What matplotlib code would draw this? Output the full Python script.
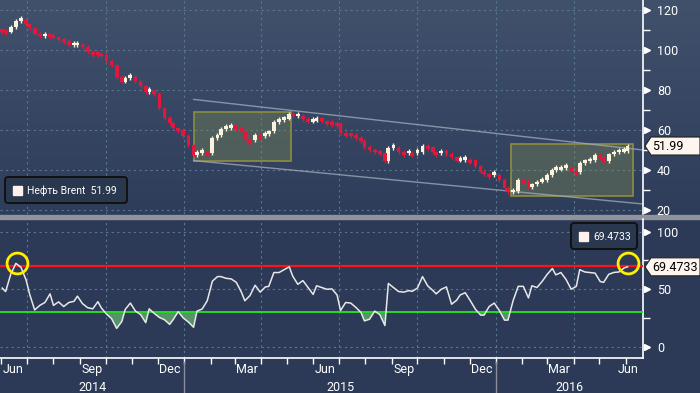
import numpy as np
import pandas as pd
import matplotlib
matplotlib.use("Agg")
import matplotlib.pyplot as plt
from matplotlib.patches import Rectangle, FancyBboxPatch, Polygon
from matplotlib.transforms import blended_transform_factory

plt.rcParams['font.family'] = ['Roboto', 'DejaVu Sans']

# --- data (one value every 4 business days) ---
start_date = "2014-06-02"
first_open = 110.3
brent_close = [
    109.8, 109.2, 111.5, 114.5, 114.8, 112.8, 110.8, 108.2, 106.8, 107.8,
    107.6, 106.3, 105.3, 104.4, 102.3, 102.3, 102.8, 101.7, 99.0, 98.8,
    98.2, 97.5, 94.7, 92.3, 86.5, 84.2, 86.0, 86.6, 84.3, 81.8,
    79.0, 79.5, 78.0, 70.8, 66.0, 63.5, 60.8, 60.0, 57.0, 52.3,
    47.6, 48.6, 48.9, 48.3, 56.0, 57.4, 60.5, 61.0, 61.9, 61.0,
    59.4, 55.0, 54.8, 57.5, 57.0, 57.8, 59.3, 64.0, 64.9, 65.7,
    68.2, 66.8, 66.9, 65.7, 64.2, 64.7, 65.8, 64.3, 63.9, 63.5,
    63.0, 58.6, 58.3, 57.4, 56.1, 54.5, 51.5, 50.2, 49.3, 48.3,
    44.6, 51.0, 51.0, 48.9, 48.3, 48.6, 48.5, 49.0, 52.0, 51.3,
    48.8, 48.3, 49.5, 48.1, 46.3, 44.7, 45.0, 45.1, 44.8, 41.8,
    39.2, 37.8, 37.5, 37.7, 35.0, 31.0, 28.8, 29.5, 35.0, 34.7,
    31.4, 32.8, 34.2, 35.0, 37.6, 40.0, 40.2, 41.0, 41.3, 39.7,
    39.0, 43.4, 44.3, 45.1, 47.5, 45.9, 44.3, 47.8, 48.8, 49.2,
    49.6, 51.99,
]
rsi_values = [
    51, 48, 63, 72.5, 69, 58, 46, 32, 36, 38.5,
    46, 36, 39, 35, 38.5, 39.5, 44, 37.5, 34, 33,
    39.2, 33.8, 28.5, 24.5, 16, 22, 32.5, 38, 31, 28,
    21, 33, 29, 25.5, 23.5, 19.5, 23.5, 30.5, 25, 21.5,
    17, 31, 32.8, 40, 57, 61, 61, 59.5, 59, 56,
    47.5, 40, 44.5, 53.5, 47.5, 52, 52.5, 64.5, 64.5, 67,
    69.5, 61.5, 54.3, 57.5, 51.5, 45.5, 53, 51.5, 50, 50.3,
    45, 31.5, 38.5, 38, 34.2, 29.8, 22.5, 24, 31, 28,
    18.5, 55, 51.5, 48, 47.5, 48.8, 48.2, 51, 61, 53,
    49, 46, 50, 52, 37, 40.5, 45, 47, 40, 32.5,
    27.6, 27.5, 35, 38, 31.5, 23.2, 23.2, 40, 52.5, 52.5,
    42.5, 53, 51.5, 56.8, 63, 68, 62.5, 64.5, 58.5, 50,
    52.5, 67, 65, 64.5, 64, 56.7, 56, 63, 64.6, 65,
    68.5, 69.47,
]
last_price_label = "51.99"
last_rsi_label = "69.4733"
legend_label = "Нефть Brent  51.99"

# annotations drawn on the chart
boxes = [("2015-01-12", "2015-05-06", 44.7, 69.2),
         ("2016-01-18", "2016-06-09", 27.0, 53.0)]
channel_upper = [("2015-01-12", 75.3), ("2016-06-21", 50.0)]
channel_lower = [("2015-01-12", 44.7), ("2016-06-21", 23.0)]
rsi_circles = [("2014-06-19", 73), ("2016-06-04", 73)]

month_labels = ["Jun", "Sep", "Dec", "Mar", "Jun", "Sep", "Dec", "Mar", "Jun"]
month_label_dates = ["2014-06-15", "2014-09-15", "2014-12-15", "2015-03-15", "2015-06-15",
                     "2015-09-15", "2015-12-15", "2016-03-15", "2016-06-04"]
year_labels = ["2014", "2015", "2016"]
quarter_starts = ["2014-07-01", "2014-10-01", "2015-01-01", "2015-04-01", "2015-07-01",
                  "2015-10-01", "2016-01-01", "2016-04-01"]

x_start, x_end = pd.Timestamp("2014-05-30 10:00"), pd.Timestamp("2016-06-21 02:00")

dates = pd.bdate_range(start_date, periods=len(brent_close), freq="4B")
close = np.array(brent_close)
opens = np.concatenate([[first_open], close[:-1]])
rsi = np.array(rsi_values)

# --- figure layout in pixels ---
W, H = 700, 393
TOP_BOTTOM = 214
LOW_TOP, LOW_BOTTOM = 219, 358
AX_RIGHT = 643

BG_LOW = '#2c3a57'
GRID = '#58788f'
WHITE = 'white'
UP_COLOR = '#fbf4dc'
DOWN_COLOR = '#e3163b'

fig = plt.figure(figsize=(W / 100, H / 100), dpi=100)

bg = fig.add_axes([0, 0, 1, 1])
bg.set_axis_off()
top_c = np.array([0x41, 0x51, 0x6c]) / 255
bot_c = np.array([0x2e, 0x3d, 0x5a]) / 255
t = np.linspace(0, 1, TOP_BOTTOM)[:, None, None]
bg.imshow(top_c + (bot_c - top_c) * t, extent=(0, W, TOP_BOTTOM, 0), aspect='auto')
bg.add_patch(Rectangle((0, TOP_BOTTOM), W, H - TOP_BOTTOM, color=BG_LOW))
bg.add_patch(Rectangle((0, 214.5), W, 4, color='#8e939c'))
bg.set_xlim(0, W)
bg.set_ylim(H, 0)

ax1 = fig.add_axes([0, (H - TOP_BOTTOM) / H, AX_RIGHT / W, TOP_BOTTOM / H])
ax2 = fig.add_axes([0, (H - LOW_BOTTOM) / H, AX_RIGHT / W, (LOW_BOTTOM - LOW_TOP) / H])
for ax in (ax1, ax2):
    ax.patch.set_alpha(0)
    ax.set_xlim(x_start, x_end)
    for s in ('top', 'left', 'bottom'):
        ax.spines[s].set_visible(False)
    ax.spines['right'].set_color(WHITE)
    ax.spines['right'].set_linewidth(1.2)
    for q in quarter_starts:
        ax.axvline(pd.Timestamp(q), color=GRID, lw=0.8, ls=(0, (2, 3)), zorder=0)


def right_axis(ax, major, minor):
    ax.yaxis.tick_right()
    ax.set_yticks(major)
    ax.set_yticklabels([f"{v:g}" for v in major])
    ax.set_yticks(minor, minor=True)
    ax.tick_params(axis='y', which='major', length=0, pad=10, labelcolor=WHITE, labelsize=9)
    ax.tick_params(axis='y', which='minor', length=5, width=1, color=WHITE)
    tr = blended_transform_factory(ax.transAxes, ax.transData)
    ax.plot([1.0 + 4 / AX_RIGHT] * len(major), major, ls='none', marker='>', ms=5,
            color=WHITE, transform=tr, clip_on=False)
    for v in major:
        ax.axhline(v, color=GRID, lw=0.8, ls=(0, (2, 3)), zorder=0)


# --- top panel: candles ---
ax1.set_ylim(18, 125)
right_axis(ax1, [20, 40, 60, 80, 100, 120], [30, 50, 70, 90, 110])
ax1.set_xticks([])

for d0, d1, lo, hi in boxes:
    d0, d1 = pd.Timestamp(d0), pd.Timestamp(d1)
    ax1.add_patch(Rectangle((d0, lo), d1 - d0, hi - lo, facecolor='#7d8c55', alpha=0.38,
                            edgecolor='none', zorder=1))
    ax1.add_patch(Rectangle((d0, lo), d1 - d0, hi - lo, facecolor='none',
                            edgecolor='#8e8e3e', lw=1.2, zorder=1))

for line in (channel_upper, channel_lower):
    ax1.plot([pd.Timestamp(d) for d, _ in line], [v for _, v in line],
             color='#9ea7b8', lw=1.0, alpha=0.8, zorder=2)

body = close - opens
body = np.where(np.abs(body) < 1.4, np.sign(body + 1e-9) * 1.4, body)
up = close >= opens
colors = np.where(up, UP_COLOR, DOWN_COLOR)
# wicks a little beyond each body
lo_w = np.minimum(opens, opens + body) - 0.9
hi_w = np.maximum(opens, opens + body) + 0.9
ax1.vlines(dates, lo_w, hi_w, colors=colors, lw=1.0, zorder=3)
ax1.bar(dates[up], body[up], bottom=opens[up], width=4.4, color=UP_COLOR, lw=0, zorder=4)
ax1.bar(dates[~up], body[~up], bottom=opens[~up], width=4.4, color=DOWN_COLOR, lw=0, zorder=4)

# --- bottom panel: RSI ---
ax2.set_ylim(-9.7, 111)
right_axis(ax2, [0, 50, 100], [25, 75])
ax2.spines['bottom'].set_visible(True)
ax2.spines['bottom'].set_color(WHITE)
ax2.spines['bottom'].set_linewidth(1.2)

ax2.fill_between(dates, rsi, 30, where=rsi < 30, interpolate=True,
                 color='#5c9c6c', alpha=0.9, lw=0, zorder=2)
ax2.axhline(70, color='#ff1414', lw=1.6, zorder=3)
ax2.axhline(30, color='#22dd22', lw=1.4, zorder=3)
ax2.plot(dates, rsi, color='#e8e8e8', lw=1.1, zorder=4)
for d, v in rsi_circles:
    ax2.plot([pd.Timestamp(d)], [v], ls='none', marker='o', ms=15, mfc='none',
             mec='#ffee00', mew=2, zorder=5, clip_on=False)

month_starts = pd.date_range("2014-06-01", "2016-06-01", freq="MS")
ax2.set_xticks(month_starts, minor=True)
ax2.set_xticks(pd.to_datetime(month_label_dates))
ax2.set_xticklabels(month_labels)
ax2.tick_params(axis='x', which='minor', length=4, width=1, color=WHITE)
ax2.tick_params(axis='x', which='major', length=0, pad=3.5, labelcolor=WHITE, labelsize=9)

trx = blended_transform_factory(ax2.transData, ax2.transAxes)
year_edges = [x_start, pd.Timestamp("2015-01-01"), pd.Timestamp("2016-01-01"), x_end]
for i, lab in enumerate(year_labels):
    mid = year_edges[i] + (year_edges[i + 1] - year_edges[i]) / 2
    ax2.text(mid, -0.21, lab, transform=trx, ha='center', va='center',
             color=WHITE, fontsize=9)
for sep in year_edges[1:3]:
    ax2.plot([sep, sep], [-0.03, -0.26], transform=trx, color='#8a909c', lw=1, clip_on=False)

# --- overlay: legends and value tags ---
ov = fig.add_axes([0, 0, 1, 1])
ov.set_axis_off()
ov.patch.set_alpha(0)
ov.set_xlim(0, W)
ov.set_ylim(H, 0)


def legend_box(x, y, w, h, text):
    ov.add_patch(FancyBboxPatch((x, y), w, h, boxstyle="round,pad=0,rounding_size=3",
                                facecolor='#2a384f', edgecolor='#111111', lw=1.4))
    ov.add_patch(Rectangle((x + 8, y + h / 2 - 4.5), 9, 9, color='#fff1ec'))
    ov.text(x + 22, y + h / 2 + 0.5, text, color=WHITE, fontsize=7.5, va='center', ha='left')


def value_tag(ax, value, text):
    y = H - ax.transData.transform((0, value))[1]
    pts = [(645, y), (651, y - 9), (700, y - 9), (700, y + 9), (651, y + 9)]
    ov.add_patch(Polygon(pts, closed=True, facecolor='#fff5ef', edgecolor='#222222', lw=0.8))
    ov.text(652, y + 0.5, text, color='black', fontsize=9, va='center', ha='left')


legend_box(5, 177, 122, 26, legend_label)
legend_box(571, 223, 66, 26, last_rsi_label)
value_tag(ax1, close[-1], last_price_label)
value_tag(ax2, rsi[-1], last_rsi_label)

fig.savefig("out.png", dpi=100)
